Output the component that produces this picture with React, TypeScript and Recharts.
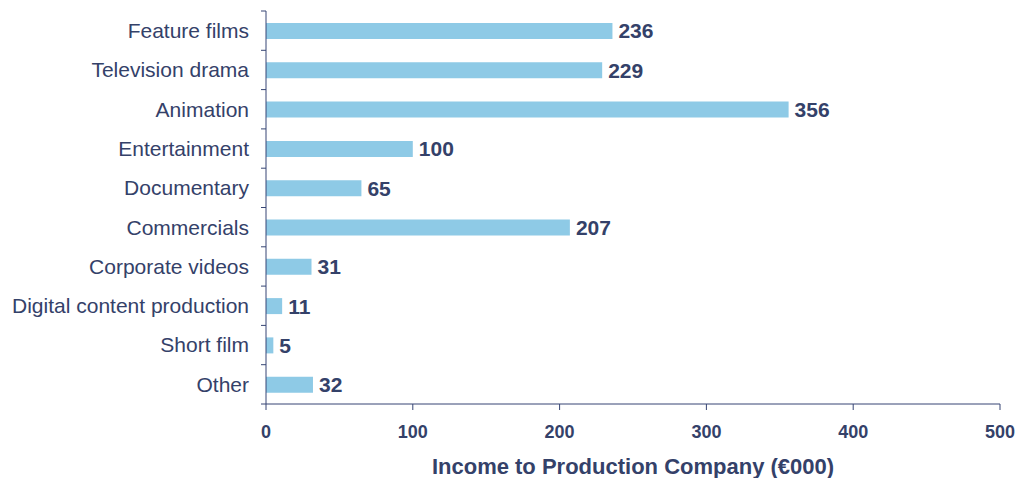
import React from "react"
import { Bar, BarChart, LabelList, XAxis, YAxis, Label } from "recharts"

const categories = [
  "Feature films",
  "Television drama",
  "Animation",
  "Entertainment",
  "Documentary",
  "Commercials",
  "Corporate videos",
  "Digital content production",
  "Short film",
  "Other",
]
const income = [236, 229, 356, 100, 65, 207, 31, 11, 5, 32]
const xTicks = [0, 100, 200, 300, 400, 500]

const data = categories.map((name, i) => ({ name, value: income[i] }))

const FONT = '"Liberation Sans", Arial, Helvetica, sans-serif'
const TEXT = "#344169"
const AXIS = "#364574"
const BAR = "#8ecae6"

// chart covers the whole page (body margin removed below)
const W = 1016
const H = 478
const MARGIN = { top: 11, right: 16, left: 0, bottom: 0 }
const X_AXIS_H = 74
const BAND = (H - MARGIN.top - MARGIN.bottom - X_AXIS_H) / categories.length

const CategoryTick = (props: any) => {
  const { x, y, payload, index } = props
  const lineX1 = x + 12
  const lineX2 = x + 17
  return (
    <g>
      <text x={x} y={y} dy="0.35em" textAnchor="end" fill={TEXT} fontSize={21} fontFamily={FONT}>
        {payload.value}
      </text>
      <line x1={lineX1} x2={lineX2} y1={y - BAND / 2} y2={y - BAND / 2} stroke={AXIS} />
      {index === categories.length - 1 && (
        <line x1={lineX1} x2={lineX2} y1={y + BAND / 2} y2={y + BAND / 2} stroke={AXIS} />
      )}
    </g>
  )
}

export default function App() {
  return (
    <div style={{ width: W, height: H, fontFamily: FONT }}>
      <style>{"html, body { margin: 0; padding: 0; overflow: hidden; }"}</style>
      <BarChart width={W} height={H} data={data} layout="vertical" margin={MARGIN}>
        <XAxis
          type="number"
          domain={[0, 500]}
          ticks={xTicks}
          height={X_AXIS_H}
          tickSize={6}
          tickMargin={15}
          stroke={AXIS}
          tick={{ fill: TEXT, fontSize: 18, fontWeight: "bold", fontFamily: FONT }}
        >
          <Label
            value="Income to Production Company (€000)"
            position="insideBottom"
            offset={4}
            fill={TEXT}
            fontSize={22}
            fontWeight="bold"
            fontFamily={FONT}
          />
        </XAxis>
        <YAxis
          type="category"
          dataKey="name"
          width={266}
          tickSize={5}
          tickMargin={12}
          tickLine={false}
          stroke={AXIS}
          interval={0}
          tick={<CategoryTick />}
        />
        <Bar dataKey="value" fill={BAR} barSize={16} isAnimationActive={false}>
          <LabelList
            dataKey="value"
            position="right"
            offset={6}
            fill={TEXT}
            fontSize={21}
            fontWeight="bold"
            fontFamily={FONT}
          />
        </Bar>
      </BarChart>
    </div>
  )
}
